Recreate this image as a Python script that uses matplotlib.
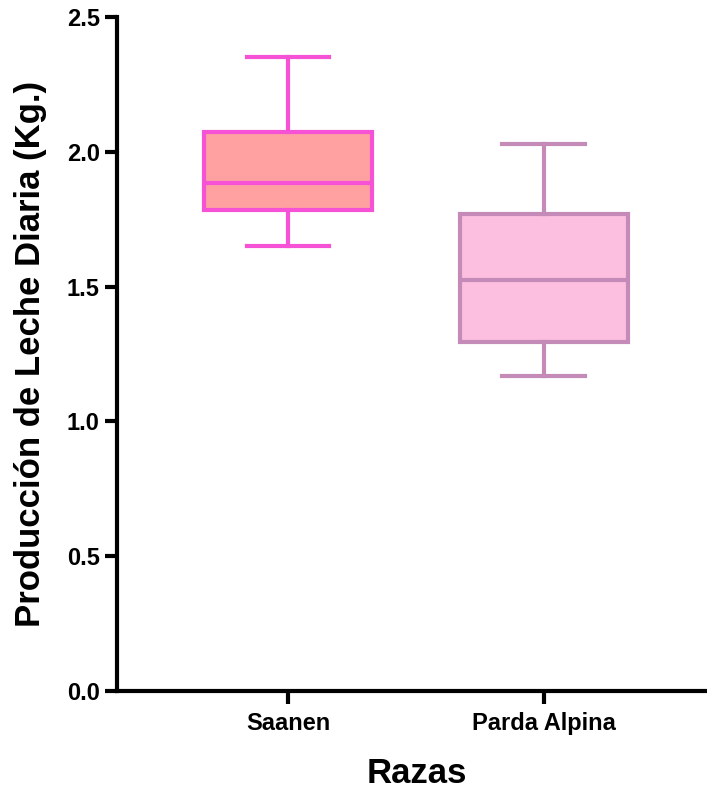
import matplotlib
matplotlib.use("Agg")
import matplotlib.pyplot as plt

# Daily milk production summary per breed (kg)
razas = ["Saanen", "Parda Alpina"]
whisker_low = [1.65, 1.17]
q1 = [1.785, 1.295]
medians = [1.885, 1.525]
q3 = [2.073, 1.770]
whisker_high = [2.352, 2.029]

face_colors = ["#FFA1A1", "#FDBFDF"]
edge_colors = ["#F552D6", "#C48BB8"]

plt.rcParams["font.family"] = ["Liberation Sans", "DejaVu Sans"]
plt.rcParams["font.weight"] = "bold"

fig = plt.figure(figsize=(7.07, 7.92), dpi=100)
ax = fig.add_axes([117 / 707, 101 / 792, 1 - 117 / 707, 674 / 792])

stats = []
for i, name in enumerate(razas):
    stats.append(dict(label=name, whislo=whisker_low[i], q1=q1[i], med=medians[i],
                      q3=q3[i], whishi=whisker_high[i], fliers=[]))

positions = list(range(len(razas)))
for i, st in enumerate(stats):
    lw = 3.0
    ec = edge_colors[i]
    ax.bxp([st], positions=[positions[i]], widths=0.656, capwidths=0.324,
           patch_artist=True, showfliers=False,
           boxprops=dict(facecolor=face_colors[i], edgecolor=ec, linewidth=lw),
           medianprops=dict(color=ec, linewidth=lw),
           whiskerprops=dict(color=ec, linewidth=lw),
           capprops=dict(color=ec, linewidth=lw))

ax.set_xlim(-0.668, 1.637)
ax.set_ylim(0, 2.5)
ax.set_yticks([0, 0.5, 1.0, 1.5, 2.0, 2.5])
ax.set_yticklabels(["0.0", "0.5", "1.0", "1.5", "2.0", "2.5"])
ax.set_xticks(positions)
ax.set_xticklabels(razas)

for side in ["top", "right"]:
    ax.spines[side].set_visible(False)
for side in ["left", "bottom"]:
    ax.spines[side].set_linewidth(3)

ax.tick_params(axis="y", width=3, length=9, labelsize=17, pad=3.5)
ax.tick_params(axis="x", width=3, length=9, labelsize=17, pad=6)
for lab in ax.get_xticklabels() + ax.get_yticklabels():
    lab.set_fontweight("bold")

ax.set_ylabel("Producción de Leche Diaria (Kg.)", fontsize=25, fontweight="bold")
ax.yaxis.label.set_va("center")
ax.yaxis.set_label_coords(-0.1458, 0.5)

ax.set_xlabel("Razas", fontsize=25, fontweight="bold")
ax.xaxis.label.set_va("baseline")
ax.xaxis.set_label_coords(0.508, -0.1365)

fig.savefig("out.png", dpi=100)
